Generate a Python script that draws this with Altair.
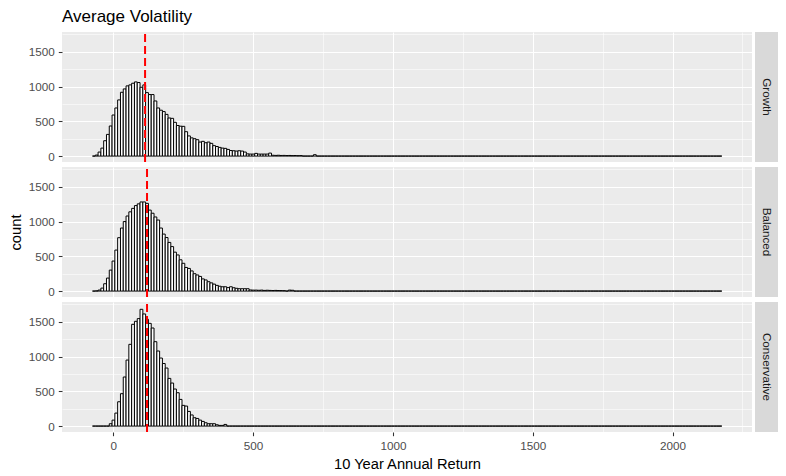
import altair as alt
import pandas as pd

FONT = "Liberation Sans, Arial, sans-serif"

FACETS = ["Growth", "Balanced", "Conservative"]
BIN_START = -74
BIN_WIDTH = 10
N_BINS = 225

# counts per bin (bin k covers [BIN_START + k*BIN_WIDTH, +BIN_WIDTH]); remaining bins are empty
growth_counts = [
    0, 15, 58, 115, 221, 312, 433, 591, 692, 808,
    918, 966, 1010, 1024, 1048, 1067, 1058, 990, 1024, 913,
    885, 885, 793, 692, 660, 640, 600, 548, 543, 486,
    440, 430, 428, 351, 290, 262, 250, 236, 202, 212,
    192, 202, 183, 150, 138, 125, 115, 111, 96, 80,
    77, 72, 77, 72, 58, 32, 29, 29, 39, 29,
    29, 29, 29, 43, 12, 10, 12, 9, 10, 8,
    9, 7, 8, 6, 7, 0, 0, 0, 0, 20,
]
balanced_counts = [
    0, 3, 15, 43, 106, 187, 302, 432, 590, 768,
    907, 1000, 1080, 1140, 1190, 1230, 1255, 1282, 1282, 1262,
    1165, 1120, 1066, 1022, 907, 820, 770, 700, 640, 560,
    520, 450, 400, 340, 326, 290, 250, 232, 211, 175,
    160, 135, 118, 100, 82, 70, 62, 62, 50, 62,
    48, 40, 34, 34, 34, 34, 16, 14, 14, 12,
    14, 10, 12, 10, 8, 10, 8, 7, 6, 0,
    14, 12,
]
conservative_counts = [
    0, 0, 0, 0, 0, 0, 34, 86, 187, 350,
    466, 706, 950, 1176, 1464, 1507, 1546, 1680, 1613, 1536,
    1478, 1411, 1214, 1080, 979, 900, 835, 686, 619, 533,
    480, 384, 298, 288, 211, 160, 120, 110, 86, 67,
    48, 34, 34, 34, 19, 10, 10, 24,
]
mean_lines = [114, 121, 121]

XTICKS = [0, 250, 500, 750, 1000, 1250, 1500, 1750, 2000, 2250]
YTICKS = [0, 250, 500, 750, 1000, 1250, 1500, 1750]
XDOM = [-183, 2284]
YDOM = [-85, 1785]

W, H = 690, 130

major = "datum.value % 500 === 0"


def x_axis(bottom):
    kw = dict(
        values=XTICKS, format="d", domain=False, grid=True, gridColor="#FFFFFF",
        gridWidth={"condition": {"test": major, "value": 1.1}, "value": 0.55},
        labelOverlap=False, labelFlush=False,
    )
    if bottom:
        return alt.Axis(
            labels=True, ticks=True,
            labelExpr=f"{major} ? datum.label : ''",
            tickOpacity={"condition": {"test": major, "value": 1}, "value": 0},
            tickColor="#333333", tickSize=3.7, tickWidth=1.07,
            labelColor="#4D4D4D", labelFontSize=11.7, labelFont=FONT, labelPadding=5,
            title="10 Year Annual Return", titleFont=FONT, titleFontSize=14.7,
            titleFontWeight="normal", titleColor="#000000", titlePadding=4,
            **kw,
        )
    return alt.Axis(labels=False, ticks=False, title=None, tickSize=0, labelPadding=0,
                    minExtent=0, maxExtent=0, **kw)


def y_axis(show_title):
    return alt.Axis(
        values=YTICKS, format="d", domain=False, grid=True, gridColor="#FFFFFF",
        gridWidth={"condition": {"test": major, "value": 1.1}, "value": 0.55},
        labelExpr=f"{major} ? datum.label : ''",
        tickOpacity={"condition": {"test": major, "value": 1}, "value": 0},
        tickColor="#333333", tickSize=3.7, tickWidth=1.07,
        labelColor="#4D4D4D", labelFontSize=11.7, labelFont=FONT, labelPadding=4,
        labelOverlap=False,
        title="count", titleFont=FONT, titleFontSize=14.7, titleFontWeight="normal",
        titleColor="#000000", titleOpacity=1 if show_title else 0, titlePadding=5,
    )


def panel(i, name, counts, vline):
    full = counts + [0] * (N_BINS - len(counts))
    x0 = [BIN_START + k * BIN_WIDTH for k in range(N_BINS)]
    df = pd.DataFrame({"x0": x0, "x1": [v + BIN_WIDTH for v in x0], "count": full})
    xs = alt.Scale(domain=XDOM, nice=False, zero=False)
    ys = alt.Scale(domain=YDOM, nice=False, zero=False)
    xax = x_axis(i == 2)
    yax = y_axis(i == 1)

    bars = alt.Chart(df).mark_rect(fill="#FFFFFF", stroke="#000000", strokeWidth=1).encode(
        x=alt.X("x0:Q", scale=xs, axis=xax),
        x2="x1:Q",
        y=alt.Y("count:Q", scale=ys, axis=yax),
        y2=alt.datum(0),
    )
    rule = alt.Chart(pd.DataFrame({"x0": [vline]})).mark_rule(
        color="#FF0000", strokeWidth=2, strokeDash=[8, 4]
    ).encode(
        x=alt.X("x0:Q", scale=xs, axis=xax),
        y=alt.value(H), y2=alt.value(0),
    )
    one = pd.DataFrame({"facet": [name]})
    strip_bg = alt.Chart(one).mark_rect(fill="#D9D9D9").encode(
        x=alt.value(W + 3), x2=alt.value(W + 26), y=alt.value(0), y2=alt.value(H)
    )
    strip_tx = alt.Chart(one).mark_text(
        angle=90, fontSize=11.7, color="#1A1A1A", font=FONT, align="center", baseline="middle"
    ).encode(x=alt.value(W + 14.5), y=alt.value(H / 2), text="facet:N")

    props = dict(width=W, height=H)
    if i == 0:
        props["title"] = alt.Title(
            "Average Volatility", anchor="start", frame="group", fontSize=17,
            font=FONT, fontWeight="normal", color="#000000", offset=3,
        )
    return alt.layer(bars, rule, strip_bg, strip_tx).properties(**props)


counts_list = [growth_counts, balanced_counts, conservative_counts]
panels = [panel(i, FACETS[i], counts_list[i], mean_lines[i]) for i in range(3)]

chart = alt.vconcat(*panels, spacing=1).properties(
    padding={"left": 8, "top": 8, "right": 8, "bottom": 4},
    background="#FFFFFF",
).configure_view(fill="#EBEBEB", stroke=None)

chart.save("out.html", embed_options={"renderer": "svg", "actions": False})
